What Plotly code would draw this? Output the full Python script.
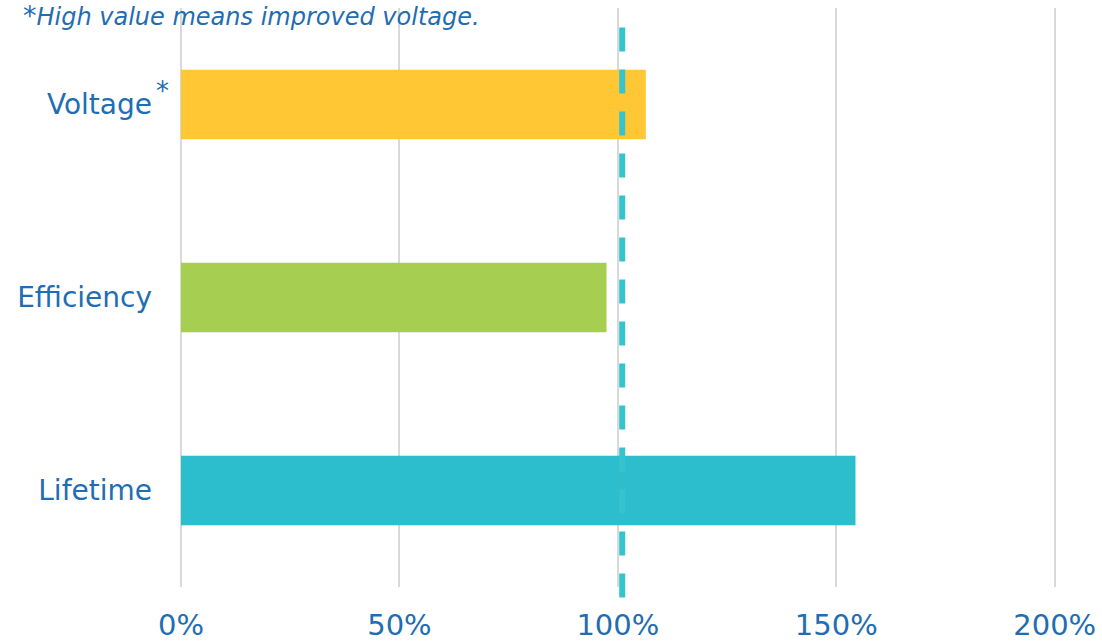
import plotly.graph_objects as go

# Relative performance of each metric (1.0 = 100 %)
metrics = ["Voltage", "Efficiency", "Lifetime"]
values = [1.064, 0.974, 1.544]
bar_colors = ["#FFC733", "#A6CE50", "#2DBECD"]
reference_level = 1.01

x_ticks = [0, 0.5, 1.0, 1.5, 2.0]
x_tick_labels = ["0%", "50%", "100%", "150%", "200%"]

text_blue = "#1F6DB2"
grid_gray = "#D9D9D9"

fig = go.Figure()

fig.add_trace(go.Bar(
    x=values,
    y=metrics,
    orientation="h",
    width=0.36,
    marker=dict(color=bar_colors, line=dict(width=0)),
    hoverinfo="x+y",
    showlegend=False,
))

# Dashed reference line
fig.add_shape(
    type="line",
    xref="x", yref="paper",
    x0=reference_level, x1=reference_level,
    y0=-0.018, y1=0.968,
    line=dict(color="#35C3D0", width=6, dash="24px,18px"),
    layer="above",
)

# Footnote marker next to the Voltage label
fig.add_annotation(
    text="*", xref="paper", yref="y",
    x=-0.021, y="Voltage", yshift=14,
    showarrow=False, xanchor="center", yanchor="middle",
    font=dict(family="DejaVu Sans", size=26, color=text_blue),
)

# Footnote text
fig.add_annotation(
    text="<span style='font-size:27px'>*</span><i>High value means improved voltage.</i>",
    xref="paper", yref="paper",
    x=-0.183, y=1.018, xanchor="left", yanchor="top",
    showarrow=False,
    font=dict(family="DejaVu Sans", size=24, color=text_blue),
)

fig.update_layout(
    width=1102, height=642,
    margin=dict(l=181, r=46, t=8, b=55),
    paper_bgcolor="white",
    plot_bgcolor="white",
    font=dict(family="DejaVu Sans", color=text_blue),
    xaxis=dict(
        range=[0, 2.003],
        tickvals=x_ticks,
        ticktext=x_tick_labels,
        showgrid=True, gridcolor=grid_gray, gridwidth=2,
        zeroline=True, zerolinecolor=grid_gray, zerolinewidth=2,
        showline=False, ticks="",
        automargin=False,
        ticklabelstandoff=18,
        tickfont=dict(size=29, color=text_blue),
    ),
    yaxis=dict(
        categoryorder="array",
        categoryarray=metrics[::-1],
        range=[-0.5, 2.5],
        showgrid=False, zeroline=False, showline=False, ticks="",
        automargin=False,
        ticklabelstandoff=28,
        tickfont=dict(size=28, color=text_blue),
    ),
)

fig.write_html("out.html")
